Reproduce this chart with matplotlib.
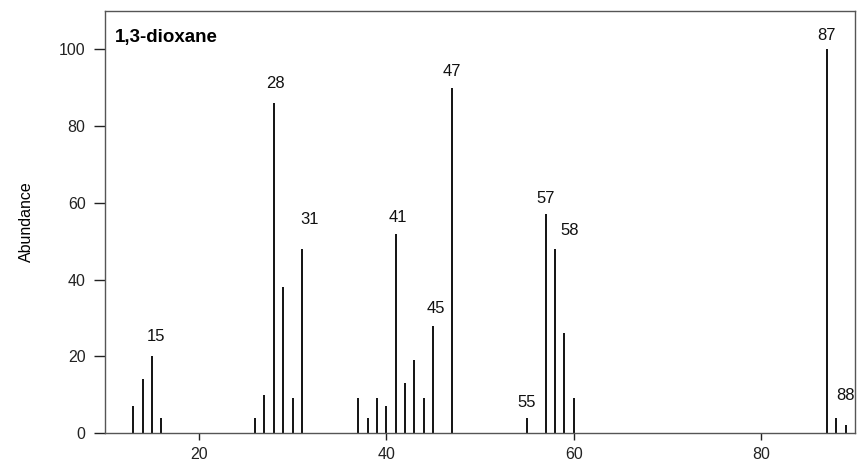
import matplotlib
matplotlib.use('Agg')
import matplotlib.pyplot as plt

plt.rcParams['font.family'] = ['Liberation Sans', 'DejaVu Sans']

# Масс-спектр 1,3-диоксана
mz = [13, 14, 15, 16, 26, 27, 28, 29, 30, 31, 37, 38, 39, 40, 41, 42, 43, 44, 45,
      47, 55, 57, 58, 59, 60, 87, 88, 89]
abundance = [7, 14, 20, 4, 4, 10, 86, 38, 9, 48, 9, 4, 9, 7, 52, 13, 19, 9, 28,
             90, 4, 57, 48, 26, 9, 100, 4, 2]
labeled = [15, 28, 31, 41, 45, 47, 55, 57, 58, 87, 88]
title = '1,3-dioxane'

# смещения подписей в пикселях (dx, dy)
label_offset = {15: (4.6, 15), 28: (1.4, 15), 31: (8, 25), 41: (2, 12), 45: (2.5, 13),
                47: (0, 12), 55: (0, 11), 57: (0, 11), 58: (14.7, 14), 87: (0, 9), 88: (9, 18)}

fig = plt.figure(figsize=(8.58, 4.70), dpi=100)
ax = fig.add_axes([105 / 858, 37 / 470, 750 / 858, 422 / 470])

ax.vlines(mz, 0, abundance, color='black', linewidth=1.3)

heights = dict(zip(mz, abundance))
for m in labeled:
    dx, dy = label_offset[m]
    ax.annotate(str(m), xy=(m, heights[m]), xytext=(dx, dy), textcoords='offset pixels',
                ha='center', va='baseline', fontsize=12, color='#111111')

ax.text(0.013, 0.957, title, transform=ax.transAxes, ha='left', va='top',
        fontsize=13.5, fontweight='bold')

ax.set_xlim(10, 90)
ax.set_ylim(0, 110)
ax.set_xticks([20, 40, 60, 80])
ax.set_yticks([0, 20, 40, 60, 80, 100])
ax.set_ylabel('Abundance', fontsize=11.5, labelpad=18)
ax.tick_params(axis='x', length=5, width=1, labelsize=11.5, pad=5, colors='#222222')
ax.tick_params(axis='y', length=8, width=1, labelsize=11.5, pad=6, colors='#222222')
for s in ax.spines.values():
    s.set_color('#555555')
    s.set_linewidth(1)

fig.savefig('out.png', dpi=100)
